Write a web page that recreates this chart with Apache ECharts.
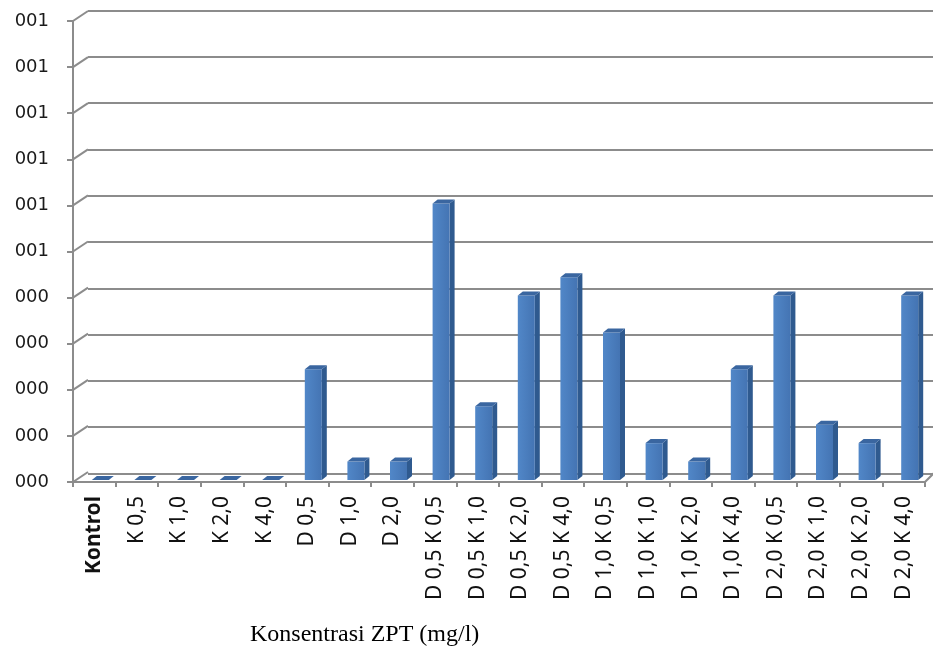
<!DOCTYPE html>
<html><head><meta charset="utf-8">
<script src="https://cdn.jsdelivr.net/npm/echarts@6/dist/echarts.min.js"></script>
<style>html,body{margin:0;padding:0;background:#fff}#c{width:933px;height:657px}</style>
</head><body><div id="c"></div>
<script>
const categories = ['Kontrol','K 0,5','K 1,0','K 2,0','K 4,0','D 0,5','D 1,0','D 2,0','D 0,5 K 0,5','D 0,5 K 1,0','D 0,5 K 2,0','D 0,5 K 4,0','D 1,0 K 0,5','D 1,0 K 1,0','D 1,0 K 2,0','D 1,0 K 4,0','D 2,0 K 0,5','D 2,0 K 1,0','D 2,0 K 2,0','D 2,0 K 4,0'];
const values = [0,0,0,0,0,2.4,0.4,0.4,6,1.6,4,4.4,3.2,0.8,0.4,2.4,4,1.2,0.8,4];
const yTickValues = [0,1,2,3,4,5,6,7,8,9,10];
const yTickLabels = ['000','000','000','000','000','001','001','001','001','001','001'];
const axisTitle = 'Konsentrasi ZPT (mg/l)';

const GRID = '#8c8c8c';
const chart = echarts.init(document.getElementById('c'));

function renderBar(params, api){
  const i = api.value(0), v = api.value(1);
  const b = api.coord([i,0]), t = api.coord([i,v]);
  const w=17, dx=5, dy=4, off=6, lift=2;
  const x0 = b[0]+off-w/2, x1 = x0+w;
  const yb = b[1]-lift, yt = t[1]-lift;
  return {type:'group', children:[
    {type:'polygon', shape:{points:[[x1,yb],[x1+dx,yb-dy],[x1+dx,yt-dy],[x1,yt]]}, style:{fill:'#2f5a8f'}},
    {type:'rect', shape:{x:x0,y:yt,width:w,height:Math.max(0,yb-yt)}, style:{fill:new echarts.graphic.LinearGradient(0,0,1,0,[{offset:0,color:'#5187c8'},{offset:1,color:'#4474b3'}])}},
    {type:'polygon', shape:{points:[[x0,yt],[x0+dx,yt-dy],[x1+dx,yt-dy],[x1,yt]]}, style:{fill:'#3a66a0'}}
  ]};
}

function renderDiag(params, api){
  const v = api.value(1), right = api.value(2);
  const p = api.coord([0, v]);
  const cs = params.coordSys;
  if (right) {
    const x = cs.x + cs.width;
    return {type:'line', shape:{x1:x, y1:p[1], x2:x+9, y2:p[1]-9}, style:{stroke:GRID, lineWidth:2}};
  }
  return {type:'line', shape:{x1:cs.x, y1:p[1], x2:cs.x+15, y2:p[1]-10}, style:{stroke:GRID, lineWidth:2}};
}

chart.setOption({
  animation:false,
  backgroundColor:'#fff',
  grid:[
    {left:73, right:8, top:21, bottom:175},
    {left:88, right:0, top:10.5, bottom:183.5}
  ],
  xAxis:[
    {type:'category', gridIndex:0, data:categories, boundaryGap:true,
     axisLine:{lineStyle:{color:GRID, width:2}},
     axisTick:{show:true, length:5, lineStyle:{color:GRID, width:2}, interval:0},
     axisLabel:{rotate:90, interval:0, margin:14, color:'#111', fontFamily:'Noto Sans', fontSize:21,
       formatter:(v,i)=> i===0 ? '{b|'+v+'}' : v,
       rich:{b:{fontWeight:'bold', fontFamily:'Noto Sans', fontSize:21, color:'#111'}}}},
    {type:'value', gridIndex:1, show:false, min:0, max:1}
  ],
  yAxis:[
    {type:'value', gridIndex:0, min:0, max:10, interval:1,
     axisLine:{show:true, lineStyle:{color:GRID, width:2}},
     axisTick:{show:true, length:6, lineStyle:{color:GRID, width:2}},
     splitLine:{show:false},
     axisLabel:{margin:24, color:'#1a1a1a', fontFamily:'DejaVu Sans', fontSize:18,
       formatter:(v)=> yTickLabels[yTickValues.indexOf(Math.round(v))]}},
    {type:'value', gridIndex:1, min:0, max:10, interval:1,
     axisLine:{show:false}, axisTick:{show:false}, axisLabel:{show:false},
     splitLine:{show:true, lineStyle:{color:GRID, width:2}}}
  ],
  series:[
    {type:'custom', xAxisIndex:0, yAxisIndex:0, renderItem:renderDiag, silent:true, z:1,
     data: yTickValues.map(v=>[0, v, 0]).concat([[0, 0, 1]])},
    {type:'custom', xAxisIndex:0, yAxisIndex:0, renderItem:renderBar, z:5,
     encode:{x:0, y:1},
     data: values.map((v,i)=>[i, v])}
  ],
  graphic:[
    {type:'text', left:250, top:623, style:{text:axisTitle, font:'24px "Liberation Serif"', fill:'#000'}}
  ]
});
</script></body></html>
